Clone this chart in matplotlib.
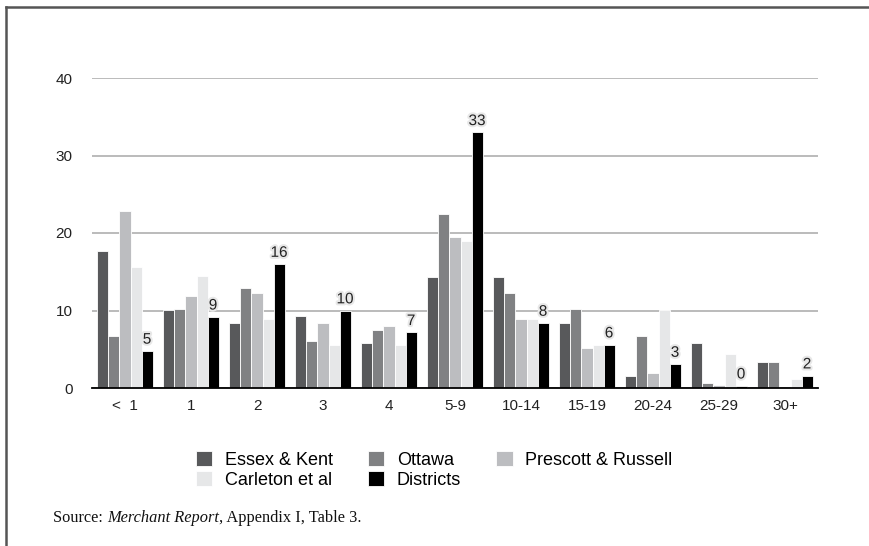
import matplotlib
matplotlib.use('Agg')
import matplotlib.pyplot as plt
import matplotlib.patheffects as pe
from matplotlib.lines import Line2D
import numpy as np

# length of stay groups (years)
categories = ['<  1', '1', '2', '3', '4', '5-9', '10-14', '15-19', '20-24', '25-29', '30+']

essex_kent = [17.7, 10.1, 8.4, 9.3, 5.8, 14.3, 14.3, 8.4, 1.5, 5.8, 3.4]
ottawa = [6.7, 10.2, 12.9, 6.1, 7.5, 22.4, 12.3, 10.2, 6.7, 0.6, 3.4]
prescott_russell = [22.8, 11.9, 12.3, 8.4, 8.0, 19.5, 8.9, 5.1, 2.0, 0.4, 0.0]
carleton = [15.6, 14.5, 8.9, 5.6, 5.5, 19.0, 8.9, 5.6, 10.1, 4.4, 1.1]
districts = [4.8, 9.2, 16.0, 10.0, 7.2, 33.0, 8.4, 5.6, 3.1, 0.3, 1.6]

series = [
    ('Essex & Kent', essex_kent, '#58595b'),
    ('Ottawa', ottawa, '#808183'),
    ('Prescott & Russell', prescott_russell, '#bcbdc0'),
    ('Carleton et al', carleton, '#e6e7e8'),
    ('Districts', districts, '#000000'),
]

plt.rcParams['font.family'] = ['Liberation Sans', 'DejaVu Sans']

fig = plt.figure(figsize=(8.69, 5.46), dpi=100)
ax = fig.add_axes([92 / 869, 1 - 388 / 546, 726 / 869, 310 / 546])

x = np.arange(len(categories))
w = 0.167
bars = {}
for i, (name, vals, col) in enumerate(series):
    bars[name] = ax.bar(x - 2 * w + i * w, vals, width=w, color=col,
                        edgecolor='white', linewidth=0.6, label=name, zorder=3)

# value labels on the Districts series
halo = [pe.withStroke(linewidth=3, foreground='#e8e8e8')]
for xi, v in zip(x + 2 * w, districts):
    t = ax.annotate(f'{v:.0f}', (xi, v), xytext=(0, 3), textcoords='offset points',
                    ha='center', va='bottom', fontsize=11, color='#222222', zorder=4)
    t.set_path_effects(halo)

ax.set_xlim(-0.5, len(categories) - 0.5)
ax.set_ylim(0, 40)
ax.set_yticks([0, 10, 20, 30, 40])
ax.set_xticks(x)
ax.set_xticklabels(categories)
ax.tick_params(axis='both', length=0, labelsize=11, colors='#222222')
ax.tick_params(axis='y', pad=14)
ax.tick_params(axis='x', pad=8)
ax.yaxis.grid(True, color='#a8a8a8', linewidth=1.1)
ax.set_axisbelow(True)
for s in ['top', 'right', 'left']:
    ax.spines[s].set_visible(False)
ax.spines['bottom'].set_color('black')
ax.spines['bottom'].set_linewidth(1.3)
ax.spines['bottom'].set_zorder(5)

# legend filled row by row
order = ['Essex & Kent', 'Carleton et al', 'Ottawa', 'Districts', 'Prescott & Russell']
fig.legend([bars[n] for n in order], order, ncol=3, frameon=False,
           loc='upper left', bbox_to_anchor=(196 / 869, 1 - 451 / 546),
           fontsize=13, handlelength=0.9, handleheight=0.9, handletextpad=0.7,
           labelspacing=0.12, columnspacing=1.95, borderpad=0, borderaxespad=0)

# source line, title of the report in italics
src_y = 1 - 518 / 546
src = fig.text(53 / 869, src_y, 'Source: ', family='Liberation Serif',
               fontsize=11.8, va='center', color='#111111')
fig.canvas.draw()
bb = src.get_window_extent()
it = fig.text(bb.x1 / 869, src_y, 'Merchant Report', family='Liberation Serif',
              style='italic', fontsize=11.8, va='center', color='#111111')
bb2 = it.get_window_extent()
fig.text(bb2.x1 / 869, src_y, ', Appendix I, Table 3.', family='Liberation Serif',
         fontsize=11.8, va='center', color='#111111')

# outer frame (top and left edges)
fig.add_artist(Line2D([5.5 / 869, 1], [1 - 7 / 546, 1 - 7 / 546], color='#555555',
                      linewidth=1.8, transform=fig.transFigure))
fig.add_artist(Line2D([5.5 / 869, 5.5 / 869], [0, 1 - 7 / 546], color='#555555',
                      linewidth=1.8, transform=fig.transFigure))

fig.savefig('out.png', dpi=100, facecolor='white')
